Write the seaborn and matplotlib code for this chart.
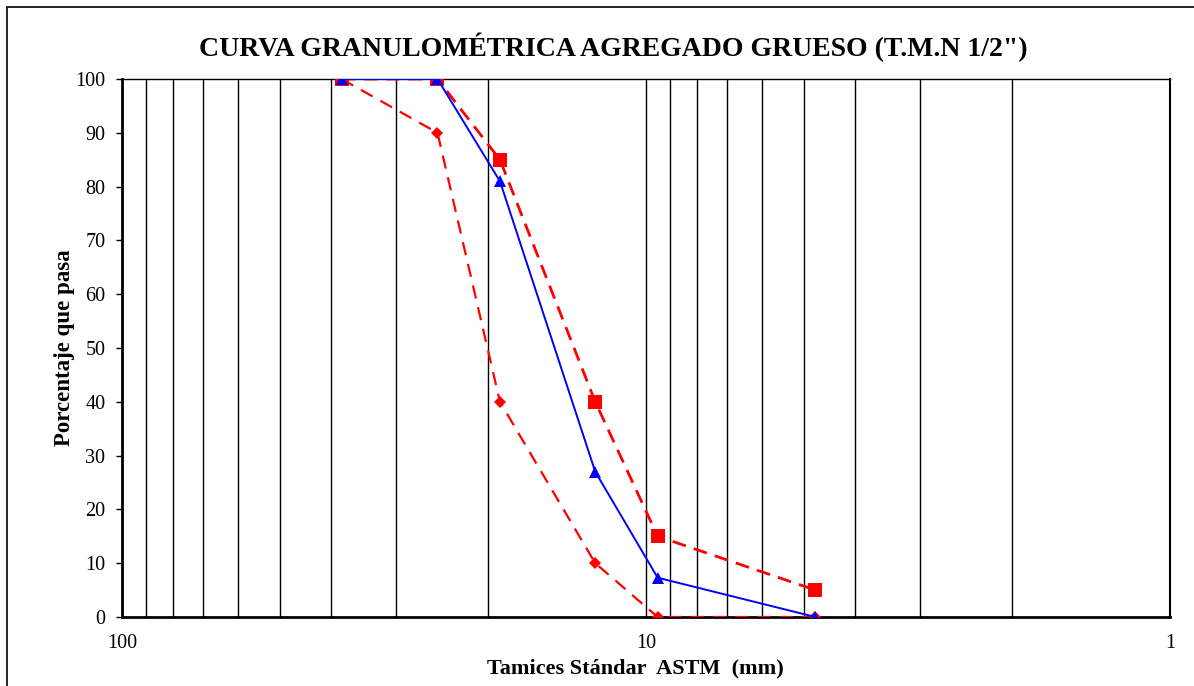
import matplotlib
matplotlib.use("Agg")
import matplotlib.pyplot as plt
import matplotlib.patches as mpatches
from matplotlib.ticker import FixedLocator, FixedFormatter, NullFormatter, LogLocator
import seaborn as sns
import pandas as pd

# Sieve openings (mm) and percent passing
tamices = [38.1, 25.0, 19.0, 12.5, 9.5, 4.75]
limite_superior = [100, 100, 85, 40, 15, 5]
limite_inferior = [100, 90, 40, 10, 0, 0]
muestra = [100, 100, 81, 27, 7.3, 0]

titulo = 'CURVA GRANULOMÉTRICA AGREGADO GRUESO (T.M.N 1/2")'
etiqueta_x = "Tamices Stándar  ASTM  (mm)"
etiqueta_y = "Porcentaje que pasa"

sns.set_theme(style="white")
plt.rcParams["font.family"] = ["Liberation Serif", "DejaVu Serif"]
plt.rcParams.update({"text.color": "black", "axes.labelcolor": "black",
                     "xtick.color": "black", "ytick.color": "black"})

fig = plt.figure(figsize=(11.94, 6.86), dpi=100)
ax = fig.add_axes([0.1022, 0.1006, 0.8777, 0.7842])

df = pd.DataFrame({"mm": tamices, "sup": limite_superior,
                   "inf": limite_inferior, "mue": muestra})

sns.lineplot(data=df, x="mm", y="inf", ax=ax, sort=False, color="#ff0000",
             linewidth=1.6, marker="D", markersize=6,
             markeredgewidth=0, zorder=3)
ax.lines[-1].set_linestyle((0, (6, 4)))
sns.lineplot(data=df, x="mm", y="sup", ax=ax, sort=False, color="#ff0000",
             linewidth=2.0, marker="s", markersize=10,
             markeredgewidth=0, zorder=3)
ax.lines[-1].set_linestyle((0, (5, 3)))
sns.lineplot(data=df, x="mm", y="mue", ax=ax, sort=False, color="#0000ff",
             linewidth=1.4, marker="^", markersize=9,
             markeredgewidth=0, zorder=4)

ax.set_xscale("log")
ax.set_xlim(100, 1)
ax.set_ylim(0, 100)

ax.xaxis.set_major_locator(FixedLocator([100, 10, 1]))
ax.xaxis.set_major_formatter(FixedFormatter(["100", "10", "1"]))
ax.xaxis.set_minor_locator(LogLocator(base=10, subs=range(2, 10)))
ax.xaxis.set_minor_formatter(NullFormatter())
ax.set_yticks(range(0, 101, 10))

ax.grid(False)
ax.grid(True, which="both", axis="x", color="black", linewidth=1.0)
ax.tick_params(axis="x", which="minor", length=0)
ax.tick_params(axis="x", which="major", length=5, width=1, color="#555555",
               labelcolor="black", direction="out", labelsize=14.5, pad=7)
ax.tick_params(axis="y", length=4, width=1, color="black", direction="out",
               labelcolor="black", labelsize=14.5, pad=8, left=True)

for s in ax.spines.values():
    s.set_color("black")
    s.set_linewidth(1.0)
ax.spines["bottom"].set_linewidth(2.0)
ax.spines["left"].set_linewidth(2.0)
ax.spines["right"].set_linewidth(1.5)

ax.set_xlabel(etiqueta_x, fontsize=16, fontweight="bold", labelpad=4,
              color="black")
ax.xaxis.label.set_x(0.4895)
ax.set_ylabel(etiqueta_y, fontsize=16.5, fontweight="bold", labelpad=0,
              color="black")
fig.text(0.514, 0.931, titulo, ha="center", va="center",
         fontsize=20, fontweight="bold", color="black")

fig.patches.append(mpatches.Rectangle((7 / 1194, -0.05), 1.2, 1.05 - 7 / 686,
                                      transform=fig.transFigure, fill=False,
                                      edgecolor="black", linewidth=1.2))

fig.savefig("out.png", dpi=100)
